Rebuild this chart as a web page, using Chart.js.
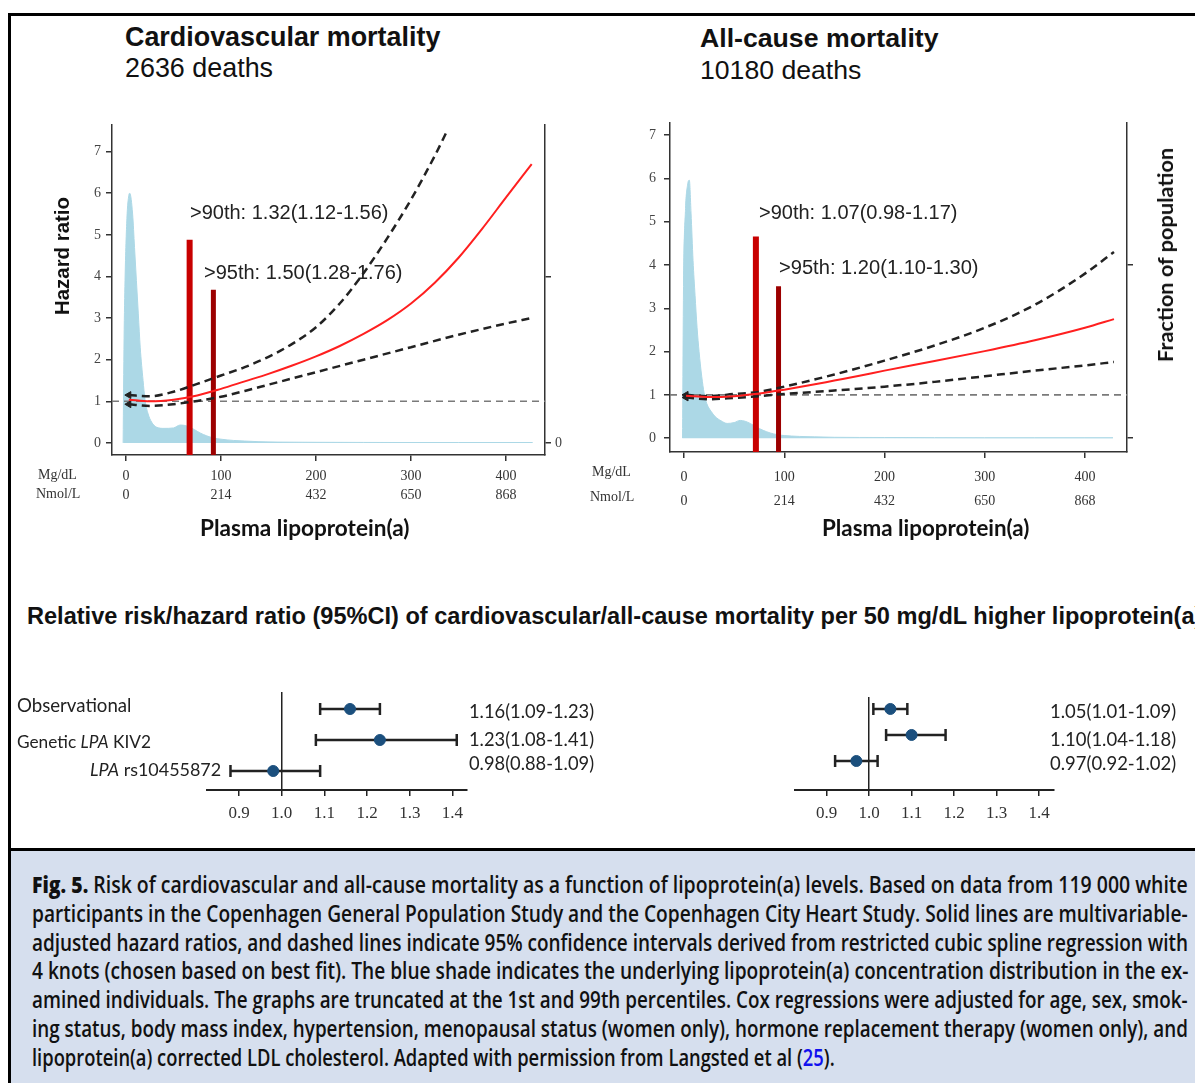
<!DOCTYPE html>
<html>
<head>
<meta charset="utf-8">
<script src="https://cdn.jsdelivr.net/npm/chart.js@4.4.0/dist/chart.umd.min.js"></script>
<style>
html, body { margin: 0; padding: 0; background: #fff; }
body { width: 1195px; height: 1083px; position: relative; overflow: hidden; font-family: "Liberation Sans", Arial, sans-serif; color: #111; }
.frame { position: absolute; left: 8px; top: 13px; width: 1300px; height: 836px; border-left: 3px solid #000; border-top: 3px solid #000; box-sizing: border-box; }
.caption { position: absolute; left: 8px; top: 848px; width: 1300px; height: 300px; background: #d6dfee; border-left: 3px solid #000; border-top: 3px solid #000; box-sizing: border-box; }
canvas { position: absolute; }
.t { position: absolute; white-space: nowrap; line-height: 1; transform: translateY(-50%); }
</style>
</head>
<body>
<div class="frame"></div>
<div class="caption"></div>
<canvas id="cvSpline" width="600" height="450" style="left:0;top:100px"></canvas>
<canvas id="acSpline" width="595" height="450" style="left:600px;top:100px"></canvas>
<canvas id="cvForest" width="600" height="160" style="left:0;top:680px"></canvas>
<canvas id="acForest" width="595" height="160" style="left:600px;top:680px"></canvas>
<script>
// x axis ticks (two unit rows)
var mgTicks = [0, 100, 200, 300, 400];
var nmolTicks = [0, 214, 432, 650, 868];
var hrTicks = [0, 1, 2, 3, 4, 5, 6, 7];
var popTicks = [0, 4];

// cardiovascular mortality
var cvDensX = [-3, -2, -1, 1, 3, 4, 7, 9, 11, 13, 15, 18, 20, 23, 27, 32, 40, 50, 57, 62, 67, 72, 78, 85, 92, 100, 113, 125, 140, 160, 200, 250, 300, 350, 400, 428];
var cvDensY = [0, 2.5, 3.9, 5.4, 5.95, 6.0, 5.5, 4.7, 3.9, 3.1, 2.3, 1.5, 1.05, 0.72, 0.5, 0.38, 0.35, 0.36, 0.43, 0.42, 0.38, 0.32, 0.24, 0.17, 0.12, 0.09, 0.06, 0.045, 0.03, 0.02, 0.015, 0.012, 0.01, 0.01, 0.01, 0.01];
var cvX = [3, 25, 50, 75, 100, 125, 150, 175, 200, 225, 250, 275, 300, 325, 350, 375, 400, 427];
var cvHR = [1.04, 1.0, 1.04, 1.14, 1.3, 1.48, 1.66, 1.86, 2.08, 2.33, 2.62, 2.95, 3.35, 3.85, 4.45, 5.15, 5.9, 6.7];
var cvUpX = [3, 25, 50, 75, 100, 125, 150, 175, 200, 225, 250, 275, 300, 325, 338];
var cvUp = [1.15, 1.12, 1.23, 1.42, 1.62, 1.82, 2.07, 2.38, 2.78, 3.35, 4.08, 4.92, 5.85, 6.9, 7.5];
var cvLoX = [3, 25, 50, 75, 100, 125, 150, 175, 200, 250, 300, 350, 400, 426];
var cvLo = [0.93, 0.89, 0.93, 1.01, 1.11, 1.25, 1.4, 1.55, 1.7, 2.0, 2.3, 2.6, 2.87, 3.0];
var cvCut = [67, 92];
var cvCutTop = [4.88, 3.68];
var cvCutText = ['>90th: 1.32(1.12-1.56)', '>95th: 1.50(1.28-1.76)'];

// all-cause mortality
var acDensX = [-1.5, -0.5, 1.5, 3.5, 5.3, 7, 9, 11, 13, 15, 17.7, 20, 22.7, 27, 31, 37, 43, 50, 56, 61, 66, 72, 79, 86, 93, 100, 115, 130, 150, 200, 250, 300, 350, 400, 428];
var acDensY = [0, 3.5, 5.3, 5.85, 5.96, 5.2, 4.1, 3.3, 2.56, 2.0, 1.42, 1.05, 0.8, 0.62, 0.5, 0.4, 0.34, 0.36, 0.41, 0.39, 0.34, 0.26, 0.18, 0.12, 0.08, 0.06, 0.04, 0.03, 0.02, 0.015, 0.012, 0.01, 0.01, 0.01, 0.01];
var acX = [2, 25, 50, 75, 100, 125, 150, 175, 200, 250, 300, 350, 400, 429];
var acHR = [0.98, 0.95, 0.97, 1.03, 1.12, 1.22, 1.33, 1.44, 1.56, 1.78, 2.01, 2.26, 2.55, 2.75];
var acUpX = [2, 25, 50, 75, 100, 150, 200, 250, 300, 350, 400, 429];
var acUp = [1.0, 0.97, 1.02, 1.07, 1.19, 1.47, 1.79, 2.14, 2.55, 3.08, 3.8, 4.3];
var acLoX = [2, 25, 50, 75, 100, 150, 200, 250, 300, 350, 400, 429];
var acLo = [0.94, 0.9, 0.93, 0.97, 1.02, 1.1, 1.19, 1.3, 1.43, 1.56, 1.68, 1.76];
var acCut = [71.7, 94.3];
var acCutTop = [4.66, 3.51];
var acCutText = ['>90th: 1.07(0.98-1.17)', '>95th: 1.20(1.10-1.30)'];

// relative risk per 50 mg/dL
var forestRows = ['Observational', 'Genetic <i>LPA</i> KIV2', '<i>LPA</i> rs10455872'];
var rrTicks = [0.9, 1.0, 1.1, 1.2, 1.3, 1.4];
var cvEst = [1.16, 1.23, 0.98];
var cvLow = [1.09, 1.08, 0.88];
var cvHigh = [1.23, 1.41, 1.09];
var acEst = [1.05, 1.10, 0.97];
var acLow = [1.01, 1.04, 0.92];
var acHigh = [1.09, 1.18, 1.02];

Chart.defaults.font.family = '"Liberation Serif", serif';
Chart.defaults.color = '#333';

function pts(xs, ys) { return xs.map(function (x, i) { return {x: x, y: ys[i]}; }); }

// html text, y is the vertical centre; w fits width by font size or by scaleX
function label(html, x, y, o) {
  var el = document.createElement('div');
  el.className = 't';
  el.innerHTML = html;
  el.style.left = x + 'px';
  el.style.top = y + 'px';
  el.style.font = o.font;
  if (o.color) el.style.color = o.color;
  document.body.appendChild(el);
  if (o.w) {
    var nat = el.offsetWidth;
    if (o.sx) {
      el.style.transformOrigin = 'left center';
      el.style.transform = 'translateY(-50%) scaleX(' + (o.w / nat) + ')';
    } else {
      el.style.fontSize = parseFloat(getComputedStyle(el).fontSize) * o.w / nat + 'px';
    }
  }
  if (o.rot) {
    el.style.transform = 'translate(-50%,-50%) rotate(-90deg)';
  }
  return el;
}

var refLine = {
  id: 'refLine',
  afterDatasetDraw: function (chart, args, opts) {
    if (args.index !== 0 || opts.value == null) return;
    var ctx = chart.ctx, a = chart.chartArea;
    var py = chart.scales.y.getPixelForValue(opts.value);
    ctx.save();
    ctx.strokeStyle = '#7a7a7a';
    ctx.lineWidth = 1.6;
    ctx.setLineDash([7, 5]);
    ctx.beginPath();
    ctx.moveTo(a.left, py);
    ctx.lineTo(a.right, py);
    ctx.stroke();
    ctx.restore();
  }
};

function spline(id, d) {
  var tickFont = {family: '"Liberation Serif", serif', size: 14};
  var arrow = {
    pointRadius: function (c) { return c.dataIndex === 0 ? 4 : 0; },
    pointStyle: 'triangle', pointRotation: -90,
    pointBackgroundColor: '#222', pointBorderColor: '#222', pointBorderWidth: 1
  };
  var dashed = function (data, order) {
    return Object.assign({data: data, borderColor: '#222', borderWidth: 2.5, borderDash: [8, 5],
      cubicInterpolationMode: 'monotone', order: order}, arrow);
  };
  return new Chart(document.getElementById(id), {
    type: 'line',
    data: {
      datasets: [
        {data: pts(d.densX, d.densY), yAxisID: 'y2', fill: 'origin', backgroundColor: '#acd8e6',
          borderColor: '#acd8e6', borderWidth: 1, pointRadius: 0, cubicInterpolationMode: 'monotone', order: 6},
        {data: [{x: d.cut[0], y: d.yMin}, {x: d.cut[0], y: d.cutTop[0]}], borderColor: '#c80000',
          borderWidth: 6, pointRadius: 0, clip: false, order: 5},
        {data: [{x: d.cut[1], y: d.yMin}, {x: d.cut[1], y: d.cutTop[1]}], borderColor: '#9c0000',
          borderWidth: 5, pointRadius: 0, clip: false, order: 4},
        dashed(pts(d.upX, d.up), 3),
        dashed(pts(d.loX, d.lo), 2),
        {data: pts(d.x, d.hr), borderColor: '#ff1f1f', borderWidth: 2, pointRadius: 0,
          cubicInterpolationMode: 'monotone', order: 1}
      ]
    },
    plugins: [refLine],
    options: {
      responsive: false, animation: false, events: [],
      layout: {padding: {top: d.padTop, left: 0, right: 0, bottom: 0}},
      plugins: {legend: {display: false}, tooltip: {enabled: false}, refLine: {value: 1}},
      scales: {
        x: {
          type: 'linear', min: d.xMin, max: d.xMax,
          afterBuildTicks: function (s) { s.ticks = mgTicks.map(function (v) { return {value: v}; }); },
          afterFit: function (s) { s.height = d.xH; },
          ticks: {
            callback: function (v, i) { return [String(mgTicks[i]), String(nmolTicks[i])]; },
            font: {family: tickFont.family, size: 14, lineHeight: d.lh},
            color: '#333', padding: d.xPad, maxRotation: 0, autoSkip: false
          },
          grid: {drawOnChartArea: false, tickLength: 6, color: '#333', lineWidth: 1.5},
          border: {color: '#333', width: 1.5}
        },
        y: {
          min: d.yMin, max: d.yMax,
          afterBuildTicks: function (s) { s.ticks = hrTicks.map(function (v) { return {value: v}; }); },
          afterFit: function (s) { s.width = d.yW; },
          ticks: {font: tickFont, color: '#444', padding: d.yPad, callback: function (v) { return String(v); }},
          grid: {drawOnChartArea: false, tickLength: 6, color: '#333', lineWidth: 1.5},
          border: {color: '#333', width: 1.5}
        },
        y2: {
          position: 'right', min: d.yMin, max: d.yMax,
          afterBuildTicks: function (s) { s.ticks = popTicks.map(function (v) { return {value: v}; }); },
          afterFit: function (s) { s.width = d.y2W; },
          ticks: {font: tickFont, color: '#444', padding: 4,
            callback: function (v) { return d.popLabel && v === 0 ? '0' : ''; }},
          grid: {drawOnChartArea: false, tickLength: 6, color: '#333', lineWidth: 1.5},
          border: {color: '#333', width: 1.5}
        }
      }
    }
  });
}

function forest(id, d) {
  var sets = [];
  d.est.forEach(function (e, i) {
    sets.push({data: [{x: d.low[i], y: i}, {x: d.high[i], y: i}], borderColor: '#222', borderWidth: 2.5,
      pointStyle: 'line', pointRotation: 90, pointRadius: 6, pointBorderWidth: 2.5,
      pointBorderColor: '#222', order: 2});
  });
  sets.push({data: d.est.map(function (e, i) { return {x: e, y: i}; }), showLine: false,
    pointStyle: 'circle', pointRadius: 5.5, pointBackgroundColor: '#1b4f7d', pointBorderColor: '#1b4f7d', order: 1});
  return new Chart(document.getElementById(id), {
    type: 'line',
    data: {datasets: sets},
    options: {
      responsive: false, animation: false, events: [],
      layout: {padding: {top: d.padTop, left: d.padLeft, right: d.padRight, bottom: 0}},
      plugins: {legend: {display: false}, tooltip: {enabled: false}},
      scales: {
        x: {
          type: 'linear', min: d.xMin, max: d.xMax,
          afterBuildTicks: function (s) { s.ticks = rrTicks.map(function (v) { return {value: v}; }); },
          afterFit: function (s) { s.height = d.xH; },
          ticks: {callback: function (v) { return v.toFixed(1); }, font: {size: 17}, color: '#333',
            padding: 7, maxRotation: 0, autoSkip: false},
          grid: {
            drawOnChartArea: true, tickLength: 6, lineWidth: 1.5, tickColor: '#222',
            color: function (c) { return c.tick && Math.abs(c.tick.value - 1) < 1e-9 ? '#222' : 'rgba(0,0,0,0)'; }
          },
          border: {color: '#222', width: 2}
        },
        y: {type: 'linear', reverse: true, min: d.yMin, max: d.yMax, display: false}
      }
    }
  });
}

spline('cvSpline', {
  densX: cvDensX, densY: cvDensY, x: cvX, hr: cvHR, upX: cvUpX, up: cvUp, loX: cvLoX, lo: cvLo,
  cut: cvCut, cutTop: cvCutTop,
  xMin: -14.7, xMax: 441, yMin: -0.29, yMax: 7.64,
  padTop: 25, xH: 95, yW: 112, y2W: 55, lh: 19 / 14, xPad: 6, yPad: 5, popLabel: true
});
spline('acSpline', {
  densX: acDensX, densY: acDensY, x: acX, hr: acHR, upX: acUpX, up: acUp, loX: acLoX, lo: acLo,
  cut: acCut, cutTop: acCutTop,
  xMin: -14, xMax: 442, yMin: -0.32, yMax: 7.28,
  padTop: 23, xH: 98, yW: 70, y2W: 68, lh: 24 / 14, xPad: 7, yPad: 8, popLabel: false
});
forest('cvForest', {
  est: cvEst, low: cvLow, high: cvHigh, xMin: 0.825, xMax: 1.434, yMin: -0.548, yMax: 2.613,
  padTop: 12, padLeft: 207, padRight: 133, xH: 50
});
forest('acForest', {
  est: acEst, low: acLow, high: acHigh, xMin: 0.8256, xMax: 1.434, yMin: -0.46, yMax: 3.115,
  padTop: 17, padLeft: 195, padRight: 141.5, xH: 50
});

// titles
var sans = '"Liberation Sans", Arial, sans-serif';
label('Cardiovascular mortality', 125, 37, {font: 'bold 24px ' + sans, w: 315});
label('2636 deaths', 125, 68, {font: '24px ' + sans, w: 148});
label('All-cause mortality', 700, 38, {font: 'bold 24px ' + sans, w: 239});
label('10180 deaths', 700, 70, {font: '24px ' + sans, w: 161});

// spline annotations
label(cvCutText[0], 190, 212, {font: '18px ' + sans, w: 199, color: '#222'});
label(cvCutText[1], 204, 272, {font: '18px ' + sans, w: 199, color: '#222'});
label(acCutText[0], 759, 212, {font: '18px ' + sans, w: 199, color: '#222'});
label(acCutText[1], 779, 267, {font: '18px ' + sans, w: 200, color: '#222'});

// axis titles
label('Hazard ratio', 62, 256, {font: 'bold 18px ' + sans, w: 118, rot: true});
label('Fraction of population', 1165, 255, {font: 'bold 19px Lato, sans-serif', w: 214, rot: true});
label('Plasma lipoprotein(a)', 200, 527, {font: 'bold 20px Lato, sans-serif', w: 210});
label('Plasma lipoprotein(a)', 822, 527, {font: 'bold 20px Lato, sans-serif', w: 208});

var serif = '14px "Liberation Serif", serif';
label('Mg/dL', 38, 475, {font: serif, color: '#333'});
label('Nmol/L', 36, 494, {font: serif, color: '#333'});
label('Mg/dL', 592, 472, {font: serif, color: '#333'});
label('Nmol/L', 590, 497, {font: serif, color: '#333'});

// forest
label('Relative risk/hazard ratio (95%CI) of cardiovascular/all-cause mortality per 50 mg/dL higher lipoprotein(a)',
  27, 616, {font: 'bold 23px ' + sans, w: 1175, sx: true, color: '#111'});
label(forestRows[0], 17, 705, {font: '17px Lato, sans-serif', w: 114, color: '#222'});
label(forestRows[1], 17, 741, {font: '17px Lato, sans-serif', w: 134, color: '#222'});
label(forestRows[2], 90, 769, {font: '17px Lato, sans-serif', w: 131, color: '#222'});
var fmt = function (e, l, h) { return e.toFixed(2) + '(' + l.toFixed(2) + '-' + h.toFixed(2) + ')'; };
var valY = [711, 739, 763];
cvEst.forEach(function (e, i) {
  label(fmt(e, cvLow[i], cvHigh[i]), 469, valY[i], {font: '17px Lato, sans-serif', w: 125, color: '#222'});
  label(fmt(acEst[i], acLow[i], acHigh[i]), 1050, valY[i], {font: '17px Lato, sans-serif', w: 126, color: '#222'});
});

// caption
var capFont = '600 23px "Open Sans", sans-serif';
var capLines = [
  '<b style="font-weight:800">Fig. 5.</b> Risk of cardiovascular and all-cause mortality as a function of lipoprotein(a) levels. Based on data from 119 000 white',
  'participants in the Copenhagen General Population Study and the Copenhagen City Heart Study. Solid lines are multivariable-',
  'adjusted hazard ratios, and dashed lines indicate 95% confidence intervals derived from restricted cubic spline regression with',
  '4 knots (chosen based on best fit). The blue shade indicates the underlying lipoprotein(a) concentration distribution in the ex-',
  'amined individuals. The graphs are truncated at the 1st and 99th percentiles. Cox regressions were adjusted for age, sex, smok-',
  'ing status, body mass index, hypertension, menopausal status (women only), hormone replacement therapy (women only), and',
  'lipoprotein(a) corrected LDL cholesterol. Adapted with permission from Langsted et al (<span style="color:#1010ee">25</span>).'
];
capLines.forEach(function (ln, i) {
  label(ln, 32, 884 + i * 28.8, {font: capFont, w: i < 6 ? 1156 : 803, sx: true, color: '#111'});
});
</script>
</body>
</html>
